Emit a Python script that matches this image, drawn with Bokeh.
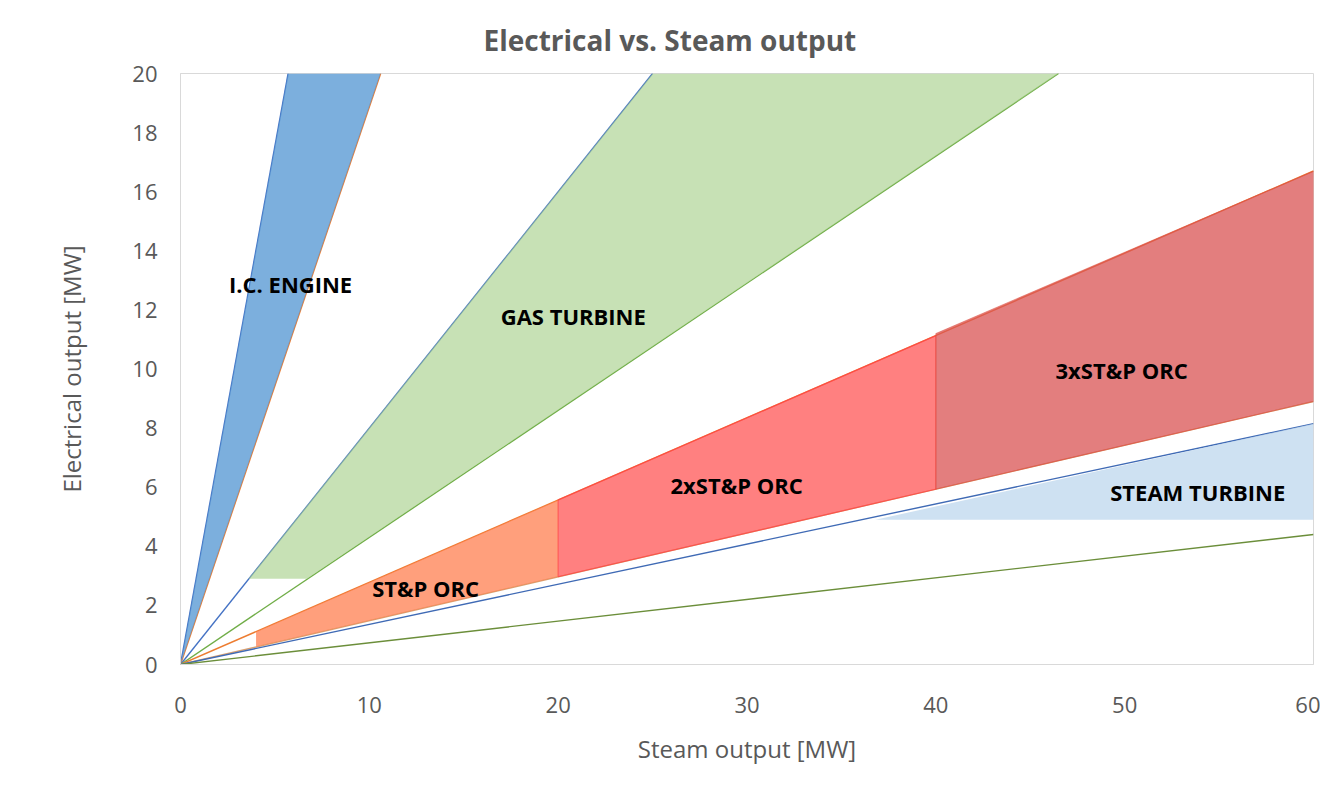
from bokeh.plotting import figure
from bokeh.models import Range1d, FixedTicker, ColumnDataSource, Title
from bokeh.core.properties import value
from bokeh.embed import file_html
from bokeh.resources import INLINE

# ---- data (MW) ----
x_ticks = [0, 10, 20, 30, 40, 50, 60]
y_ticks = [0, 2, 4, 6, 8, 10, 12, 14, 16, 18, 20]

# rays from origin: end points
ray_x_end = [5.7, 10.6, 25.0, 46.5, 60.0, 60.0, 60.0, 60.0]
ray_y_end = [20.0, 20.0, 20.0, 20.0, 16.7, 8.9, 8.15, 4.4]
ray_colors = ["#4472C4", "#ED7D31", "#4472C4", "#70AD47",
              "#ED7D31", "#D9A070", "#3F6AB5", "#6B8E3A"]

# regions (polygon vertices)
ic_x = [0.0, 5.7, 10.6]
ic_y = [0.0, 20.0, 20.0]
gt_x = [3.6, 25.0, 46.5, 6.7]
gt_y = [2.9, 20.0, 20.0, 2.9]
orc1_x = [4.0, 20.0, 20.0, 4.0]
orc1_y = [0.6, 2.97, 5.57, 1.11]
orc2_x = [20.0, 40.0, 40.0, 20.0]
orc2_y = [2.97, 5.93, 11.13, 5.57]
orc3_x = [40.0, 60.0, 60.0, 40.0]
orc3_y = [5.93, 8.9, 16.7, 11.2]
st_x = [36.8, 60.0, 60.0]
st_y = [4.9, 8.15, 4.9]

label_texts = ["I.C. ENGINE", "GAS TURBINE", "ST&P ORC", "2xST&P ORC", "3xST&P ORC", "STEAM TURBINE"]
label_x = [5.83, 20.8, 12.98, 29.45, 49.84, 53.87]
label_y = [12.86, 11.81, 2.6, 6.06, 9.98, 5.85]

FONT = "Open Sans"
GREY = "#595959"

p = figure(frame_width=1133, frame_height=591,
           min_border_left=180, min_border_right=7,
           min_border_top=73, min_border_bottom=125,
           x_range=Range1d(0, 60), y_range=Range1d(0, 20),
           output_backend="svg", toolbar_location=None, tools="")
p.background_fill_color = "white"
p.border_fill_color = "white"
p.outline_line_color = "#D9D9D9"
p.grid.visible = False

title = Title(text="Electrical vs. Steam output", align="left", offset=303,
              text_font=FONT, text_font_size="28px", text_font_style="bold",
              text_color=GREY, standoff=30)
p.add_layout(title, "above")

for ax in (p.xaxis[0], p.yaxis[0]):
    ax.axis_line_color = "#D9D9D9"
    ax.major_tick_line_color = None
    ax.minor_tick_line_color = None
    ax.major_label_text_font = FONT
    ax.major_label_text_font_size = "22px"
    ax.major_label_text_color = GREY
    ax.axis_label_text_font = FONT
    ax.axis_label_text_font_size = "24px"
    ax.axis_label_text_font_style = "normal"
    ax.axis_label_text_color = GREY

p.xaxis.ticker = FixedTicker(ticks=x_ticks)
p.yaxis.ticker = FixedTicker(ticks=y_ticks)
p.xaxis.axis_label = "Steam output [MW]"
p.yaxis.axis_label = "Electrical output [MW]"
p.xaxis.major_label_standoff = 26
p.xaxis.axis_label_standoff = 16
p.yaxis.major_label_standoff = 17
p.yaxis.axis_label_standoff = 41

# rays
p.segment(x0=[0] * len(ray_x_end), y0=[0] * len(ray_x_end),
          x1=ray_x_end, y1=ray_y_end, line_color=ray_colors, line_width=1.4)

# fills (semi-transparent, over the rays)
p.patch(ic_x, ic_y, fill_color="#5B9BD5", fill_alpha=0.8, line_color=None)
p.patch(gt_x, gt_y, fill_color="#A9D18E", fill_alpha=0.65, line_color=None)
p.patch(orc1_x, orc1_y, fill_color="#FF7F50", fill_alpha=0.75, line_color=None)
p.patch(orc2_x, orc2_y, fill_color="#FF6060", fill_alpha=0.8,
        line_color="#FF4040", line_alpha=0.7, line_width=1.2)
p.patch(orc3_x, orc3_y, fill_color="#D95353", fill_alpha=0.75,
        line_color="#E05040", line_alpha=0.5, line_width=1.0)
p.patch(st_x, st_y, fill_color="#BDD7EE", fill_alpha=0.75, line_color=None)

src = ColumnDataSource(dict(x=label_x, y=label_y, t=label_texts))
p.text(x="x", y="y", text="t", source=src, text_font=value(FONT),
       text_font_size="22px", text_font_style="bold", text_color="black",
       text_align="center", text_baseline="middle")

open("out.html", "w").write(file_html(p, INLINE))
